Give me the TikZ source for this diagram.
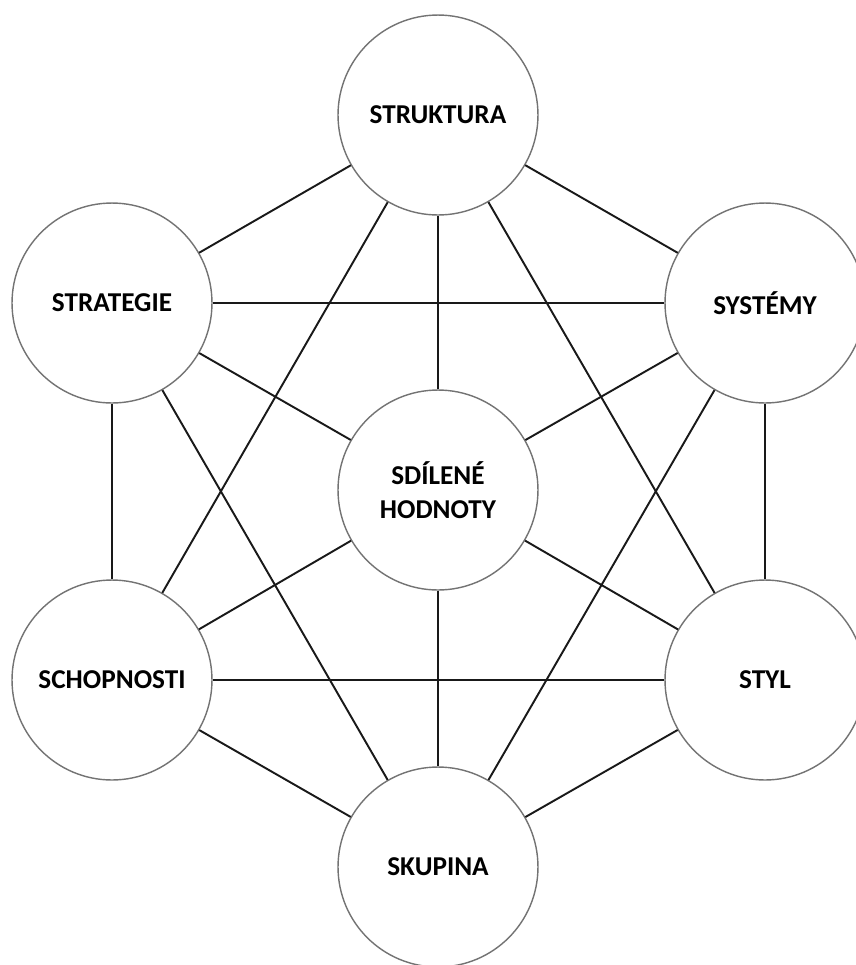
\documentclass[tikz,border=0pt]{standalone}
\usepackage{fontspec}
\setmainfont{Carlito}
\begin{document}
\begin{tikzpicture}[x=0.02cm,y=-0.02cm,
  kruh/.style={circle,draw=black!55,line width=0.8pt,fill=white,minimum size=4cm,inner sep=0pt,align=center,font=\fontsize{15.5}{19.5}\selectfont\bfseries},
  spoj/.style={line width=1.1pt,black!90}]
\useasboundingbox (0,0) rectangle (856,965);

\node[kruh] (struktura) at (438,115) {STRUKTURA};
\node[kruh] (strategie) at (112,303) {STRATEGIE};
\node[kruh] (systemy) at (765,303) {SYSTÉMY};
\node[kruh] (hodnoty) at (438,490) {SDÍLENÉ\\HODNOTY};
\node[kruh] (schopnosti) at (112,680) {SCHOPNOSTI};
\node[kruh] (styl) at (765,680) {STYL};
\node[kruh] (skupina) at (438,867) {SKUPINA};

% vnejsi sestiuhelnik
\draw[spoj] (struktura) -- (strategie);
\draw[spoj] (struktura) -- (systemy);
\draw[spoj] (strategie) -- (schopnosti);
\draw[spoj] (systemy) -- (styl);
\draw[spoj] (schopnosti) -- (skupina);
\draw[spoj] (styl) -- (skupina);

% uhlopricky
\draw[spoj] (strategie) -- (systemy);
\draw[spoj] (schopnosti) -- (styl);
\draw[spoj] (struktura) -- (schopnosti);
\draw[spoj] (struktura) -- (styl);
\draw[spoj] (strategie) -- (skupina);
\draw[spoj] (systemy) -- (skupina);

% paprsky ke stredu
\foreach \n in {struktura,strategie,systemy,schopnosti,styl,skupina}
  \draw[spoj] (hodnoty) -- (\n);
\end{tikzpicture}
\end{document}
